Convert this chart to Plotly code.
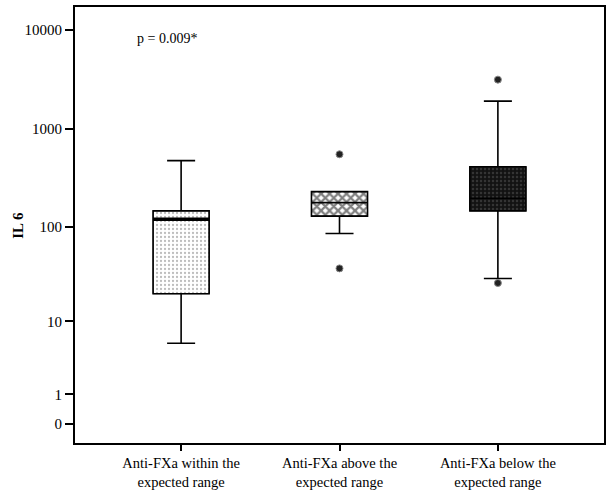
import numpy as np
import plotly.graph_objects as go

# IL 6 by anti-FXa group
categories = ["Anti-FXa within the<br>expected range",
              "Anti-FXa above the<br>expected range",
              "Anti-FXa below the<br>expected range"]
q1 = [20, 128, 145]
median = [119, 176, 195]
q3 = [145, 228, 408]
lower_whisker = [5.6, 85, 29]
upper_whisker = [471, 228, 1900]
outlier_group = [1, 1, 2, 2]
outlier_value = [547, 37, 3140, 26]
tick_values = [0, 1, 10, 100, 1000, 10000]


def t(v):
    # SPSS style log scale that still shows 0: log10(v + 1)
    return np.log10(np.asarray(v, dtype=float) + 1)


pos = list(range(len(categories)))
box_w = 0.354

patterns = [
    dict(shape=".", fgcolor="#7a7a7a", bgcolor="white", size=4, solidity=0.25),
    dict(shape="x", fgcolor="black", bgcolor="white", size=6, solidity=0.6),
    dict(shape=".", fgcolor="#555555", bgcolor="#121212", size=4, solidity=0.3),
]
outline = ["#666666", "black", "#333333"]

fig = go.Figure()

# patterned box bodies
for i in pos:
    fig.add_trace(go.Bar(
        x=[i], base=[t(q1[i])], y=[t(q3[i]) - t(q1[i])], width=box_w,
        marker=dict(color="white", pattern=patterns[i],
                    line=dict(color=outline[i], width=1)),
        hoverinfo="skip", showlegend=False))

# box outlines, medians and whiskers
for i in pos:
    fig.add_trace(go.Box(
        x=[i], q1=[t(q1[i])], median=[t(median[i])], q3=[t(q3[i])],
        lowerfence=[t(lower_whisker[i])], upperfence=[t(upper_whisker[i])],
        width=box_w, whiskerwidth=0.5, fillcolor="rgba(0,0,0,0)",
        line=dict(color="black", width=1.6), boxpoints=False,
        showlegend=False))

# thick median line on the first box
fig.add_trace(go.Scatter(
    x=[pos[0] - box_w / 2, pos[0] + box_w / 2], y=[t(median[0])] * 2,
    mode="lines", line=dict(color="black", width=3.5),
    hoverinfo="skip", showlegend=False))

# outliers
fig.add_trace(go.Scatter(
    x=outlier_group, y=t(outlier_value), mode="markers",
    marker=dict(symbol="circle", size=7, color="#222222",
                line=dict(color="#888888", width=1)),
    showlegend=False))

fig.add_annotation(x=-0.29, y=3.92, xref="x", yref="y", text="p = 0.009*",
                   showarrow=False, xanchor="left",
                   font=dict(family="Liberation Serif", size=14, color="black"))

# y axis title
fig.add_annotation(x=-0.108, y=0.5, xref="paper", yref="paper",
                   xanchor="center", yanchor="middle",
                   text="<b>IL 6</b>", textangle=-90, showarrow=False,
                   font=dict(family="Liberation Serif", size=15, color="black"))

fig.update_layout(
    width=609, height=496,
    margin=dict(l=75, r=5, t=7, b=53),
    plot_bgcolor="white", paper_bgcolor="white",
    barmode="overlay", boxmode="overlay",
    font=dict(family="Liberation Serif", size=14, color="black"),
    xaxis=dict(range=[-0.67, 2.67], tickvals=pos, ticktext=categories,
               showgrid=False, zeroline=False, showline=True, mirror=True,
               linecolor="black", linewidth=2, ticks="outside", ticklen=6,
               tickwidth=1.5, tickcolor="black", tickfont=dict(size=14.5),
               automargin=False),
    yaxis=dict(range=[-0.194, 4.235], tickvals=t(tick_values),
               ticktext=[str(v) for v in tick_values],
               showgrid=False, zeroline=False, showline=True, mirror=True,
               linecolor="black", linewidth=2, ticks="outside", ticklen=8,
               tickwidth=2, tickcolor="black", tickfont=dict(size=15),
               automargin=False),
)

# drop the page's default body margin so the figure sits at the window corner
fig.write_html("out.html", config={"displayModeBar": False},
               post_script="document.body.style.margin = '0';")
